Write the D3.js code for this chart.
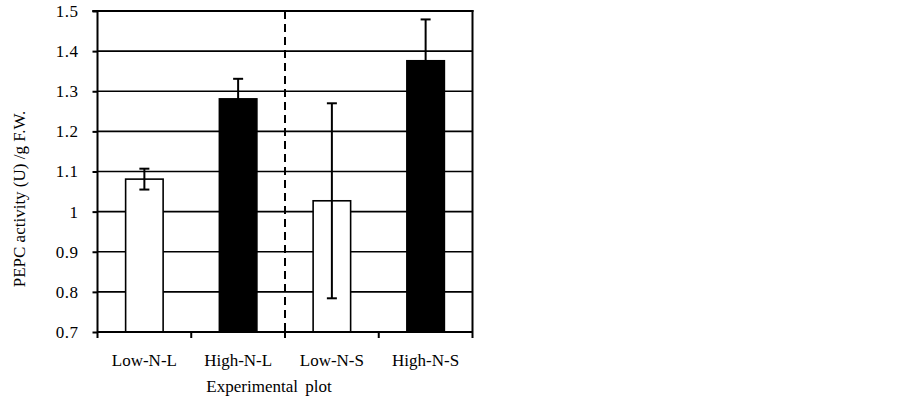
<!DOCTYPE html>
<html>
<head>
<meta charset="utf-8">
<script src="https://cdn.jsdelivr.net/npm/d3@7/dist/d3.min.js"></script>
<style>
  body { margin: 0; background: #fff; }
  text { font-family: "Liberation Serif", "Times New Roman", serif; fill: #000; }
</style>
</head>
<body>
<svg id="chart" width="902" height="399"></svg>
<script>
const categories = ["Low-N-L", "High-N-L", "Low-N-S", "High-N-S"];
const values = [1.081, 1.281, 1.027, 1.376];
const errors = [0.026, 0.050, 0.243, 0.103];
const fills = ["#fff", "#000", "#fff", "#000"];
const yTicks = [0.7, 0.8, 0.9, 1.0, 1.1, 1.2, 1.3, 1.4, 1.5];
const yLabels = ["0.7", "0.8", "0.9", "1", "1.1", "1.2", "1.3", "1.4", "1.5"];
const yTitle = "PEPC activity (U) /g F.W.";
const xTitle = "Experimental plot";

const svg = d3.select("#chart");
const L = 97.5, R = 472.5, T = 11, B = 332;

const x = d3.scaleBand().domain(categories).range([L, R]).paddingInner(0).paddingOuter(0);
const y = d3.scaleLinear().domain([0.7, 1.5]).range([B, T]);
const bw = x.bandwidth() * 0.4;

// gridlines
svg.append("g").selectAll("line").data(yTicks.slice(1)).join("line")
  .attr("x1", L).attr("x2", R)
  .attr("y1", d => y(d)).attr("y2", d => y(d))
  .attr("stroke", "#000").attr("stroke-width", 1.6);

// right border
svg.append("line").attr("x1", R).attr("x2", R).attr("y1", T - 1).attr("y2", B + 6)
  .attr("stroke", "#000").attr("stroke-width", 2);

// dashed separator
svg.append("line")
  .attr("x1", x("Low-N-S")).attr("x2", x("Low-N-S"))
  .attr("y1", T).attr("y2", B)
  .attr("stroke", "#000").attr("stroke-width", 2)
  .attr("stroke-dasharray", "8,5");

// bars
svg.append("g").selectAll("rect").data(categories).join("rect")
  .attr("x", d => x(d) + (x.bandwidth() - bw) / 2)
  .attr("width", bw)
  .attr("y", (d, i) => y(values[i]))
  .attr("height", (d, i) => B - y(values[i]))
  .attr("fill", (d, i) => fills[i])
  .attr("stroke", "#000").attr("stroke-width", 1.6);

// error bars
const eb = svg.append("g").attr("stroke", "#000").attr("stroke-width", 2);
categories.forEach((c, i) => {
  const cx = x(c) + x.bandwidth() / 2;
  const hi = y(values[i] + errors[i]), lo = y(values[i] - errors[i]);
  eb.append("line").attr("x1", cx).attr("x2", cx).attr("y1", hi).attr("y2", lo);
  eb.append("line").attr("x1", cx - 5).attr("x2", cx + 5).attr("y1", hi).attr("y2", hi);
  eb.append("line").attr("x1", cx - 5).attr("x2", cx + 5).attr("y1", lo).attr("y2", lo);
});

// y axis
const yAxis = d3.axisLeft(y).tickValues(yTicks).tickFormat((d, i) => yLabels[i]).tickSize(5).tickPadding(14);
const gy = svg.append("g").attr("transform", `translate(${L},0)`).call(yAxis);
gy.attr("font-family", null).attr("font-size", null);
gy.select(".domain").attr("stroke-width", 2).attr("d", `M-5,${T}H0V${B + 6}`);
gy.selectAll(".tick line").attr("stroke-width", 2);
gy.selectAll("text").style("font-size", "17px").style("letter-spacing", "0.5px");

// top border
svg.append("line").attr("x1", L - 5).attr("x2", R + 1).attr("y1", T).attr("y2", T)
  .attr("stroke", "#000").attr("stroke-width", 2);

// x axis
const gx = svg.append("g").attr("transform", `translate(0,${B})`);
gx.append("line").attr("x1", L).attr("x2", R).attr("y1", 0).attr("y2", 0)
  .attr("stroke", "#000").attr("stroke-width", 2);
gx.selectAll(".tk").data(categories.slice(1)).join("line")
  .attr("x1", d => x(d)).attr("x2", d => x(d)).attr("y1", 0).attr("y2", 6)
  .attr("stroke", "#000").attr("stroke-width", 2);
gx.selectAll(".lbl").data(categories).join("text")
  .attr("x", d => x(d) + x.bandwidth() / 2)
  .attr("y", 34)
  .attr("text-anchor", "middle")
  .style("font-size", "17px")
  .text(d => d);

svg.append("text").attr("x", 269).attr("y", 392).attr("text-anchor", "middle")
  .style("font-size", "17px").style("word-spacing", "3px").text(xTitle);

svg.append("text").attr("transform", `translate(25,${199}) rotate(-90)`)
  .attr("text-anchor", "middle").style("font-size", "17px").text(yTitle);
</script>
</body>
</html>
